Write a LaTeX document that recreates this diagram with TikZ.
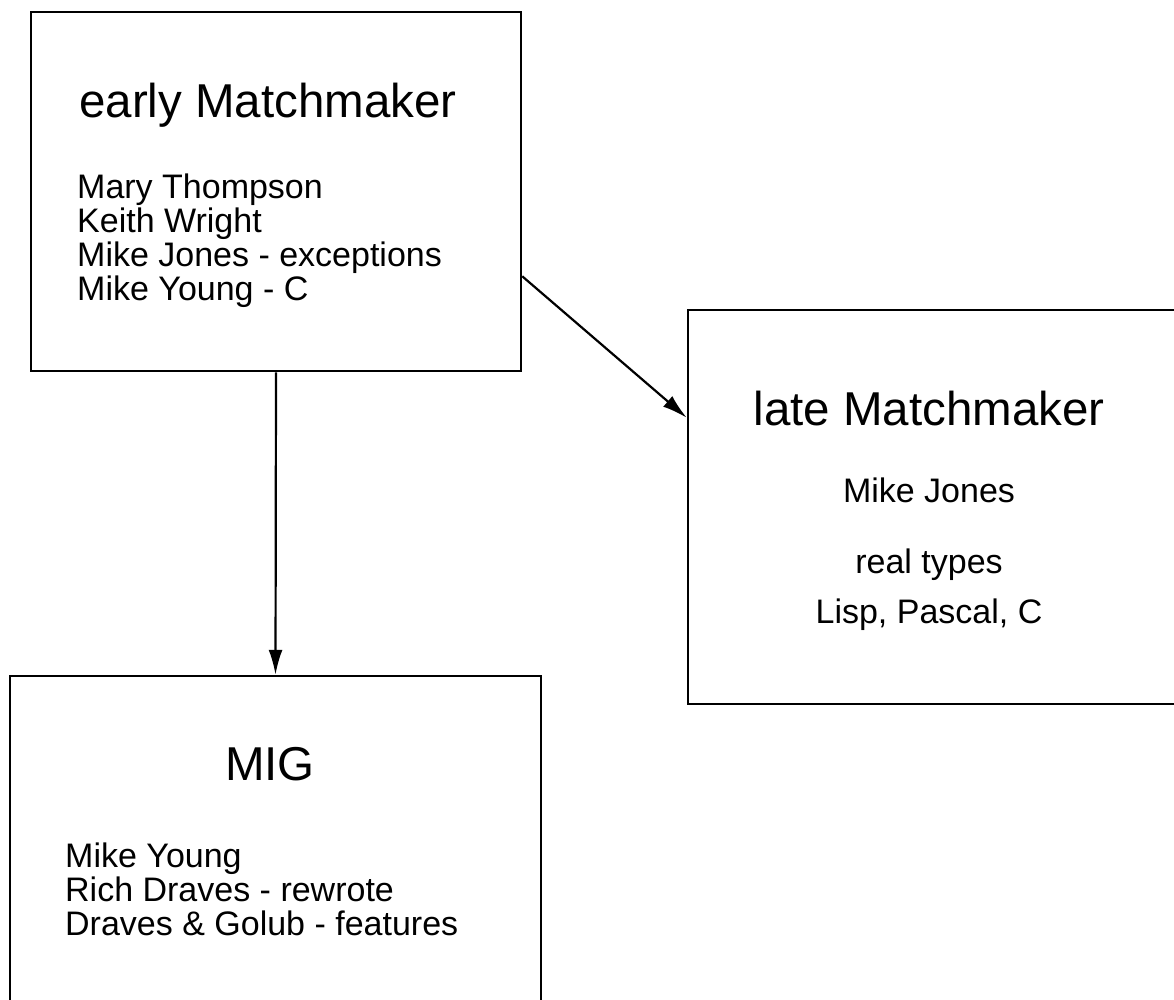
\documentclass[tikz,border=0pt]{standalone}
\usepackage{fontspec}
\setmainfont{Liberation Sans}
\usetikzlibrary{arrows.meta, positioning}

\begin{document}
\begin{tikzpicture}[x=1pt, y=-1pt, every node/.style={inner sep=0pt},
  box/.style={draw, rectangle, line width=2.5pt},
  ttl/.style={font=\fontsize{47.5}{47.5}\selectfont},
  txt/.style={font=\fontsize{34}{34}\selectfont},
  link/.style={-{Latex[length=25pt, width=14pt]}, line width=2.2pt}]
\useasboundingbox (0,0) rectangle (1174,999);

% early Matchmaker
\node (early) at (276,191.5) [box, minimum width=490pt, minimum height=359pt] {};
\node (earlyttl) at (79,117) [ttl, anchor=base west] {early Matchmaker};
\node (earlytxt) at (77,300) [txt, anchor=base west, align=left] {Mary Thompson\\Keith Wright\\Mike Jones - exceptions\\Mike Young - C};

% late Matchmaker
\node (late) at (932,507) [box, minimum width=488pt, minimum height=394pt] {};
\node (latettl) at (929,425) [ttl, anchor=base] {late Matchmaker};
\node (latetxt) at (929,623) [txt, anchor=base, align=center] {Mike Jones\\[37pt]real types\\[16pt]Lisp, Pascal, C};

% MIG
\node (mig) at (275.5,839) [box, minimum width=531pt, minimum height=326pt] {};
\node (migttl) at (270,780) [ttl, anchor=base] {MIG};
\node (migtxt) at (65,935) [txt, anchor=base west, align=left] {Mike Young\\Rich Draves - rewrote\\Draves \& Golub - features};

% Pfeile
\draw[link] (early.south) -- (mig.north);
\draw[link] (early.-19) -- (late.160);
\end{tikzpicture}
\end{document}
